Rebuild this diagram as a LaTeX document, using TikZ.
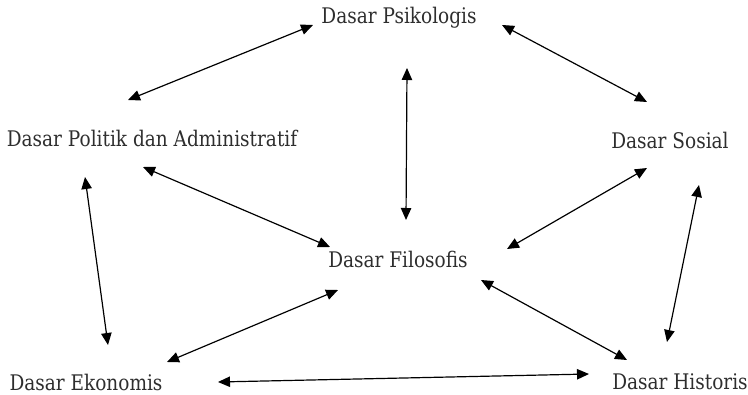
\documentclass[tikz,border=0pt]{standalone}
\usepackage{fontspec}
\setmainfont{DejaVu Serif}[FakeStretch=0.86]
\usetikzlibrary{calc,arrows.meta}
\definecolor{teks}{HTML}{2E2E2E}
\tikzset{
	dasar/.style={inner sep=0pt, text=teks, font=\fontsize{15.3}{17}\selectfont},
	panah/.style={line width=0.85pt, {Triangle[length=3mm,width=2.6mm]}-{Triangle[length=3mm,width=2.6mm]}}
}

\begin{document}
\begin{tikzpicture}[x=0.025cm, y=-0.025cm]
		%%%%% START %%%%%
		\useasboundingbox (0, 0) rectangle (748, 394);
		
		\node[dasar] (psi) at (399, 18) {Dasar Psikologis};
		\node[dasar] (pol) at (152, 138) {Dasar Politik dan Administratif};
		\node[dasar] (sos) at (670, 140) {Dasar Sosial};
		\node[dasar] (fil) at (398, 259) {Dasar Filosofis};
		\node[dasar] (eko) at (86, 382) {Dasar Ekonomis};
		\node[dasar] (his) at (680, 382) {Dasar Historis};
		
		\draw[panah] ($(psi)+(-86, 7)$) -- ($(pol)+(-24, -38)$);
		\draw[panah] ($(psi)+(103, 7)$) -- ($(sos)+(-23, -38)$);
		\draw[panah] ($(psi)+(8, 50)$) -- ($(fil)+(8, -39)$);
		
		\draw[panah] ($(pol)+(-9, 29)$) -- ($(fil)+(-68, -12)$);
		\draw[panah] ($(sos)+(-23, 28)$) -- ($(fil)+(109, -10)$);
		
		\draw[panah] ($(pol)+(-67, 39)$) -- ($(eko)+(22, -37)$);
		\draw[panah] ($(sos)+(29, 45)$) -- ($(his)+(-13, -40)$);
		
		\draw[panah] ($(fil)+(-60, 31)$) -- ($(eko)+(81, -20)$);
		\draw[panah] ($(fil)+(83, 21)$) -- ($(his)+(-53, -22)$);
		
		\draw[panah] ($(eko)+(132, 0)$) -- ($(his)+(-91, -8)$);
		%%%%% END %%%%%
	\end{tikzpicture}
\end{document}
